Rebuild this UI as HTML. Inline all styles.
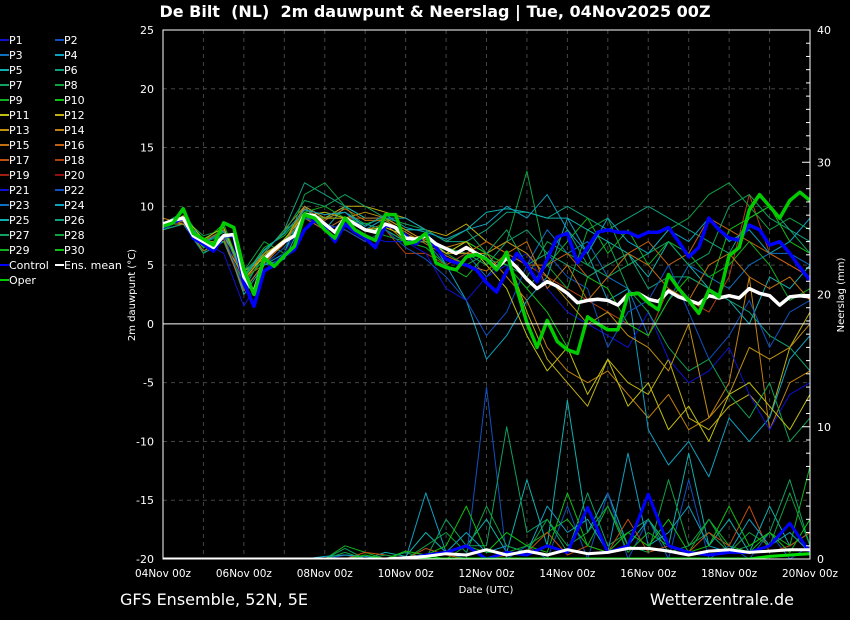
<!DOCTYPE html>
<html><head><meta charset="utf-8">
<style>
html,body{margin:0;padding:0;background:#000;}
svg{display:block;font-family:"DejaVu Sans","Liberation Sans",sans-serif;}
</style></head>
<body>
<svg id="chart" width="850" height="620" viewBox="0 0 850 620">
<rect width="850" height="620" fill="#000"/>
<text x="435" y="17" fill="#fff" font-size="16" font-weight="bold" text-anchor="middle" xml:space="preserve" style="white-space:pre">De Bilt  (NL)  2m dauwpunt &amp; Neerslag | Tue, 04Nov2025 00Z</text>
<text x="120" y="605" fill="#fff" font-size="16">GFS Ensemble, 52N, 5E</text>
<text x="794" y="605" fill="#fff" font-size="16" text-anchor="end">Wetterzentrale.de</text>
<text x="486" y="593" fill="#fff" font-size="10" text-anchor="middle">Date (UTC)</text>
<text transform="translate(135,295) rotate(-90)" fill="#fff" font-size="10" text-anchor="middle">2m dauwpunt (°C)</text>
<text transform="translate(844,295) rotate(-90)" fill="#fff" font-size="10" text-anchor="middle">Neerslag (mm)</text>
<g id="grid"></g>
<clipPath id="clip"><rect x="163" y="30" width="647" height="529"/></clipPath>
<g id="series" clip-path="url(#clip)"></g>
<g id="axes"></g>
<g id="legend"></g>
</svg>
<script>
const NS="http://www.w3.org/2000/svg";
const xTickLabels=["04Nov 00z","06Nov 00z","08Nov 00z","10Nov 00z","12Nov 00z","14Nov 00z","16Nov 00z","18Nov 00z","20Nov 00z"];
const yTicks=[25,20,15,10,5,0,-5,-10,-15,-20];
const y2Ticks=[0,10,20,30,40];
const operT=[8.3,8.6,9.8,7.7,7.2,6.7,8.6,8.2,4.6,2.5,5.6,4.9,5.8,6.6,9.3,9.0,8.0,7.3,9.0,8.0,7.5,7.1,9.3,9.3,6.8,7.0,7.7,5.2,4.8,4.6,5.7,5.9,5.5,4.6,6.1,3.0,0.1,-2,0.3,-1.5,-2.2,-2.5,0.6,0,-0.5,-0.5,2.5,2.6,1.8,1.2,4.2,3.0,2.0,0.9,2.9,2.3,5.8,6.5,9.7,11,10,9,10.5,11.2,10.5];
const controlT=[8.2,8.6,9.0,7.3,6.8,6.2,7.5,7.5,3.5,1.5,4.5,5,5.8,6.3,8,8.8,8.2,7,8.5,7.8,7.3,6.5,8.4,8.2,7.5,6.8,7.7,6.5,5.5,5.2,5.0,4.6,3.5,2.7,4.5,6,5,3.6,5.5,7.4,7.7,5.2,6.5,7.8,8,7.8,7.8,7.4,7.8,7.8,8.2,7,5.7,6.5,9,8,7.3,7.1,8.4,8,6.7,7,6,4.8,3.7];
const meanT=[8.5,8.8,9.0,7.5,7,6.5,7.5,7.6,4,2.7,5.5,6.3,7,7.5,9.3,9.2,8.5,7.8,9,8.5,8.0,7.8,8.5,8.2,7.3,7.2,7.5,6.8,6.4,6,6.5,6.0,5.5,4.7,5.6,4.8,3.8,3.0,3.6,3.2,2.6,1.8,2.0,2.1,2.0,1.6,2.5,2.6,2.1,1.9,2.8,2.3,2.0,1.7,2.4,2.2,2.4,2.2,3.0,2.6,2.4,1.6,2.3,2.4,2.3];
const m1=[8,9,6.5,7,3,6,7,10,9,9.5,8,9,7,7,5,6,4,6,5,8,6,7,4,3,-1,2,5,4,3,5,6,6,5];
const m2=[8.5,9.5,7,8,4.5,6,8,12,11,10,9,9,8,8,7,7,8,9.5,9.5,9,10,9,8,9,10,9,8,7,6,9,10,8,7];
const m3=[8,8.5,6.5,7.5,4.5,5.5,7,9,9,10,10,9.5,9,8,7.5,8.5,7,6,1,-3,-5,-7,-3,-5,-6,-3,-8,-9,-7,-6,-8,-2,1];
const m4=[9,8.5,7,7,4,6,8,10,9,9,8,8.5,7,7,6.5,7,6,4,2,-2,-4,-5,-4,-6,-8,-6,-9,-8,-5,4,-9,-5,-4];
const m5=[8.5,9,7,8,3.5,6,8,9,8,8,7,8,6,6,5,6,7,6,5,4,3,2,1,0,-1,3,2,1,4,11,6,5,4];
const m6=[8,8.5,6,7,3,5,6,10,8,9,8,9,9,8,5,2,-3,-1,2,4,9,6,2,3,-9,-12,-10,-13,-8,-10,-8,-3,-1];
const m7=[8.5,9,6,8,4.5,7,6,11,12,10,8,8,7,7,6,5,6,7,13,5,3,8,9,5,6,8,9,11,12,10,8,9,8];
const m8=[8,9,7,6,1.5,4.5,6,9,8,8.5,7.5,7,7,6,3,2,4,5,6,3,1,0,-1,-2,1,-3,-5,-4,-2,-6,-9,-6,-5];
const m9=[8.5,9,7.5,8,4,6,8,9,9,9,8,8,7,7,6.5,6,5.5,5,4,7,6,5,7,3,1,-2,-4,-3,-6,-8,-5,-10,-8];
const m10=[8.2,9,7,7.5,2.5,5,5.5,9,8,10,9,9,8,8,7,8,9.5,9.8,9.5,9,9,8,7,6,4,7,5,3,2,0,4,3,5];
const m11=[8,9,7,8.5,4,6.5,7.5,9.5,9,9,8.5,9,7,7.5,6,7,6,5,3,1,-2,4,3,0,-1,2,4,3,8,9,10,7,6];
const m12=[8.5,9,7,8,4,5,7,9,8,9,9,9,8,7,6,6,7,6,5,5,6,4,5,6,7,5,6,9,8,7,6,5,4];
const m13=[8,8.5,6.5,7.5,3,6,7,9,9,9.5,8.5,8,7,7,6,6,5,7,8,6,5,4,5,6,3,4,4,3,2,1,-1,-2,-4];
const m14=[8.5,8.5,7,7,4,6,7,10,9,9,9.5,9,8,7,6,6,6,7,6,4,2,0,1,-1,-2,-4,0,-8,-6,-2,-3,-2,0];
const m15=[8,9,6.5,7,3.5,5.5,7,9.5,10,9,8,7.5,7,6.5,5,4,6,5,3,5,7,9,6,8,5,7,6,4,5,7,5,2,3];
const m16=[8.5,9,7,7.5,3,5,6.5,9,8.5,8,7,8,6.5,5.5,4,2,-1,1,5,6,4,3,-2,1,2,5,1,-3,-1,2,-2,1,2];
const m17=[8.3,8.8,6.8,7.8,4.2,6.2,7.8,10.5,10,11,10,9,8.5,8,7,8,6,8,5,6,8,5,4,5,6,7,5,6,10,11,9,8,6];
const m18=[8.2,9.2,7.2,8.2,3.8,5.8,7.2,9.2,9.5,9,8,8.2,7.5,7.2,6,7,5,3,-1,-4,-2,-6,-3,-7,-5,-9,-7,-10,-6,-5,-7,-9,-6];
const m19=[8.6,8.7,6.2,7.2,2.8,5.2,6.8,9.8,8.8,9.8,8.8,8.8,7.8,6.8,5.8,5,4.5,6,7,3,5,2,4,6,5,3,2,5,6,4,3,4,2];
const m20=[8.1,9.1,6.9,7.9,3.9,6.3,7.7,9.7,9.3,9.5,8.3,9.3,8.2,7.8,7.2,8,8.5,10,9,11,8,6,9,7,6,8,7,9,7,8,6,7,9];
const pA=[0,0,0,0,0,0,0,0,0,0,0,0.5,0.2,2,0.5,1,3,0.5,6,1,12,2,5,1,3,1,8,1,3,0.5,4,1,2];
const pB=[0,0,0,0,0,0,0,0,0,0.3,0,0,0,0.2,0.5,0,13,0,1,0,4,0,5,0,3,0,6,0,1,0,2,0,1];
const pC=[0,0,0,0,0,0,0,0,0,0.8,0,0,0.5,0,3,1,1,10,2,3,0.5,5,1,2,3,0.5,1,2,0.5,1,2,6,1];
const pD=[0,0,0,0,0,0,0,0,0,1,0.5,0,0,0.3,0,1,0.5,0.5,1,2,3,1,4,0.5,2,1,0.5,3,1,0.5,2,1,7];
const pE=[0,0,0,0,0,0,0,0,0,0,0.5,0.3,0,0.8,0.3,0,0,0.3,0.5,2,0.3,1,0.5,3,0.5,1,0.5,2,1,4,0.5,1,2];
const pF=[0,0,0,0,0,0,0,0,0.2,0.3,0.2,0,0,5,0.5,2,0.5,1,0.5,4,2,3,0.5,8,1,2,4,1,0.5,3,1,2,0.5];
const pG=[0,0,0,0,0,0,0,0,0,0.5,0,0.3,0,1,2,0.5,4,1,0.5,3,1,2,4,1,0.5,6,1,3,0.5,2,1,5,1];
const pH=[0,0,0,0,0,0,0,0,0,0,0.3,0,0.6,0.3,1,4,0.5,2,1,0.5,5,1,0.5,2,1,3,0.5,1,4,1,2,0.5,3];
const controlP=[0,0,0,0,0,0,0,0,0,0,0,0,0,0.3,0.5,1,0,0.5,0.3,1,0.5,3.9,0.5,1,4.9,1,0.5,0.3,0.5,0.5,1,2.7,0.5];
const meanP=[0,0,0,0,0,0,0,0,0,0,0,0,0.1,0.2,0.4,0.3,0.7,0.3,0.6,0.3,0.7,0.4,0.5,0.8,0.8,0.6,0.3,0.6,0.7,0.5,0.6,0.7,0.7];
const operP=[0,0,0,0,0,0,0,0,0,0,0,0,0,0,0,0,0,0,0,0,0,0,0,0,0,0,0,0,0,0,0.2,0.3,0.4];

const X0=163,X1=810,Y0=30,Y1=559;
function xDay(d){return X0+d*(X1-X0)/16;}
function yT(v){return Y0+(25-v)*(Y1-Y0)/45;}
function yP(v){return Y1-v*(Y1-Y0)/40;}
function mk(tag,attrs,parent){const e=document.createElementNS(NS,tag);for(const k in attrs)e.setAttribute(k,attrs[k]);parent.appendChild(e);return e;}
const grid=document.getElementById('grid'),series=document.getElementById('series'),axes=document.getElementById('axes'),legend=document.getElementById('legend');

for(let d=1;d<16;d++){const g=mk('line',{x1:xDay(d),x2:xDay(d),y1:Y0,y2:Y1,stroke:'#444','stroke-dasharray':'4,4'},grid);

}
yTicks.forEach(v=>{if(v===25||v===-20||v===0)return;const g=mk('line',{x1:X0,x2:X1,y1:yT(v),y2:yT(v),stroke:'#444','stroke-dasharray':'4,4'},grid);

});

function poly(vals,step,yf,color,w,name){const pts=vals.map((v,i)=>xDay(i*step).toFixed(1)+','+yf(v).toFixed(1)).join(' ');
const p=mk('polyline',{points:pts,fill:'none',stroke:color,'stroke-width':w,'stroke-linejoin':'round'},series);

}

const members=[[m1,'#1070c0'],[m2,'#10a080'],[m3,'#c0b010'],[m4,'#c08010'],[m5,'#b04010'],[m6,'#10a0c0'],[m7,'#10a040'],[m8,'#1010d0'],[m9,'#10a050'],[m10,'#10b0b0'],[m11,'#10c010'],[m12,'#c06010'],[m13,'#10a070'],[m14,'#c09010'],[m15,'#10b020'],[m16,'#1050c0'],[m17,'#10a060'],[m18,'#c0c010'],[m19,'#c07010'],[m20,'#10a0c0']];
members.forEach(([a,c])=>poly(a,0.5,yT,c,1,'member-dewpoint-line'));
const pm=[[pA,'#10b0b0'],[pB,'#1050c0'],[pC,'#10a060'],[pD,'#10b020'],[pE,'#c05010'],[pF,'#10a0c0'],[pG,'#10a040'],[pH,'#10c010']];
pm.forEach(([a,c])=>poly(a,0.5,yP,c,1,'member-precip-line'));
poly(controlP,0.5,yP,'#0000ff',3,'control-precip-line');
poly(operP,0.5,yP,'#00dd00',3,'oper-precip-line');
poly(meanP,0.5,yP,'#ffffff',3,'mean-precip-line');

const z=mk('line',{x1:X0,x2:X1,y1:yT(0),y2:yT(0),stroke:'#fff','stroke-width':1},axes);


poly(controlT,0.25,yT,'#0000ff',3.5,'control-dewpoint-line');
poly(meanT,0.25,yT,'#ffffff',3.5,'ens-mean-dewpoint-line');
poly(operT,0.25,yT,'#00cc00',3.5,'oper-dewpoint-line');

const frame=mk('rect',{x:X0,y:Y0,width:X1-X0,height:Y1-Y0,fill:'none',stroke:'#fff','stroke-width':1},axes);


yTicks.forEach(v=>{const t=mk('text',{x:154,y:yT(v)+4,fill:'#fff','font-size':11,'text-anchor':'end'},axes);t.textContent=v;

});
y2Ticks.forEach(v=>{const t=mk('text',{x:817,y:yP(v)+4,fill:'#fff','font-size':11},axes);t.textContent=v;

});
for(let m=1;m<40;m++){const l=mk('line',{x1:X1-(m%10===0?8:4),x2:X1,y1:yP(m),y2:yP(m),stroke:'#fff'},axes);

}
xTickLabels.forEach((s,i)=>{const t=mk('text',{x:xDay(i*2),y:577,fill:'#fff','font-size':10.5,'text-anchor':'middle'},axes);t.textContent=s;

});

const pal=['#1010d0','#1050c0','#1070c0','#10a0c0','#10b0b0','#10a080','#10a060','#10a040','#10b020','#10c010','#c0c010','#c0b010','#c09010','#c08010','#c07010','#c06010','#c05010','#b04010','#a02010','#901010'];
const legNames=[];for(let i=1;i<=30;i++)legNames.push('P'+i);
legNames.push('Control','Ens. mean','Oper');
legNames.forEach((n,i)=>{const col=i%2,row=Math.floor(i/2);const lx=col?55:0,ly=40+row*15;
let c=i<30?pal[i%20]:(n==='Control'?'#0000ff':n==='Oper'?'#00cc00':'#ffffff');
const g=mk('g',{},legend);


mk('line',{x1:lx,x2:lx+9,y1:ly,y2:ly,stroke:c,'stroke-width':2},g);
const t=mk('text',{x:lx+9,y:ly+4,fill:'#fff','font-size':11},g);t.textContent=n;});
</script>
</body></html>
